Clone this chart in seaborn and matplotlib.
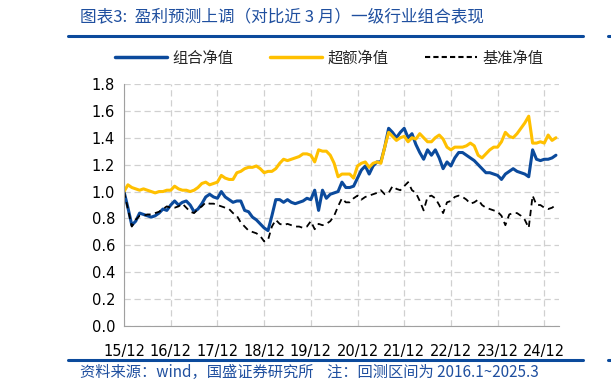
import numpy as np
import pandas as pd
import matplotlib
matplotlib.use('Agg')
import matplotlib.pyplot as plt
import seaborn as sns
from matplotlib.lines import Line2D

# 数据: 月度净值 (2015/12 ~ 2025/03)
zuhe = [1.00, 0.88, 0.75, 0.78, 0.84, 0.83, 0.82, 0.81, 0.82, 0.84, 0.87, 0.86,
        0.90, 0.93, 0.90, 0.92, 0.93, 0.90, 0.85, 0.87, 0.91, 0.96, 0.98, 0.96,
        0.95, 1.00, 0.96, 0.94, 0.92, 0.93, 0.93, 0.86, 0.85, 0.81, 0.79, 0.76,
        0.73, 0.71, 0.82, 0.94, 0.94, 0.92, 0.94, 0.92, 0.91, 0.92, 0.93, 0.95,
        0.94, 1.01, 0.86, 1.01, 0.95, 0.98, 0.99, 1.00, 1.07, 1.03, 1.03, 1.04,
        1.10, 1.16, 1.19, 1.13, 1.19, 1.22, 1.22, 1.33, 1.47, 1.44, 1.40, 1.44,
        1.47, 1.40, 1.43, 1.35, 1.29, 1.24, 1.31, 1.27, 1.31, 1.25, 1.17, 1.22,
        1.19, 1.25, 1.29, 1.29, 1.27, 1.25, 1.23, 1.20, 1.17, 1.14, 1.14, 1.13,
        1.12, 1.09, 1.13, 1.15, 1.17, 1.15, 1.14, 1.13, 1.11, 1.31, 1.24, 1.23,
        1.24, 1.24, 1.25, 1.27]
chaoe = [1.00, 1.05, 1.03, 1.02, 1.01, 1.02, 1.01, 1.00, 0.99, 1.00, 1.00, 1.01,
         1.01, 1.04, 1.02, 1.01, 1.01, 1.00, 1.01, 1.03, 1.06, 1.07, 1.05, 1.06,
         1.07, 1.12, 1.10, 1.09, 1.09, 1.14, 1.15, 1.17, 1.18, 1.18, 1.19, 1.17,
         1.14, 1.15, 1.15, 1.17, 1.21, 1.24, 1.23, 1.24, 1.25, 1.26, 1.28, 1.28,
         1.27, 1.22, 1.31, 1.30, 1.30, 1.27, 1.21, 1.11, 1.13, 1.13, 1.13, 1.10,
         1.19, 1.21, 1.22, 1.18, 1.21, 1.22, 1.21, 1.33, 1.44, 1.41, 1.38, 1.40,
         1.41, 1.37, 1.40, 1.39, 1.43, 1.40, 1.37, 1.37, 1.40, 1.42, 1.39, 1.33,
         1.31, 1.33, 1.33, 1.33, 1.34, 1.36, 1.34, 1.27, 1.25, 1.28, 1.31, 1.33,
         1.33, 1.37, 1.44, 1.41, 1.40, 1.43, 1.47, 1.51, 1.56, 1.36, 1.36, 1.37,
         1.36, 1.42, 1.38, 1.40]
jizhun = [1.00, 0.87, 0.74, 0.79, 0.82, 0.82, 0.83, 0.83, 0.84, 0.85, 0.87, 0.89,
          0.88, 0.88, 0.89, 0.91, 0.88, 0.85, 0.84, 0.87, 0.89, 0.92, 0.91, 0.91,
          0.90, 0.89, 0.88, 0.87, 0.84, 0.82, 0.77, 0.74, 0.71, 0.70, 0.69, 0.67,
          0.63, 0.64, 0.74, 0.79, 0.76, 0.75, 0.76, 0.75, 0.74, 0.74, 0.73, 0.74,
          0.78, 0.72, 0.76, 0.75, 0.76, 0.78, 0.82, 0.89, 0.95, 0.92, 0.92, 0.95,
          0.97, 0.94, 0.96, 0.97, 0.98, 0.99, 1.01, 0.98, 0.99, 1.04, 1.02, 1.01,
          1.04, 1.07, 1.01, 0.99, 0.93, 0.86, 0.96, 0.97, 0.95, 0.90, 0.84, 0.92,
          0.93, 0.96, 0.97, 0.96, 0.94, 0.91, 0.92, 0.94, 0.90, 0.88, 0.87, 0.86,
          0.85, 0.82, 0.75, 0.83, 0.84, 0.84, 0.82, 0.79, 0.73, 0.97, 0.90, 0.90,
          0.88, 0.87, 0.88, 0.90]
xtick_labels = ['15/12', '16/12', '17/12', '18/12', '19/12',
                '20/12', '21/12', '22/12', '23/12', '24/12']

df = pd.DataFrame({'月': np.arange(len(zuhe)), '组合净值': zuhe,
                   '超额净值': chaoe, '基准净值': jizhun})

sns.set_style('white')
plt.rcParams['font.family'] = ['Noto Sans CJK SC', 'DejaVu Sans']

blue = '#0b4a9c'
yellow = '#ffc000'
title_blue = '#1f4f9f'

fig = plt.figure(figsize=(6.11, 3.92), dpi=100)
ax = fig.add_axes([0.203, 0.168, 0.712, 0.618])

sns.lineplot(data=df, x='月', y='组合净值', ax=ax, color=blue, linewidth=2.2)
sns.lineplot(data=df, x='月', y='超额净值', ax=ax, color=yellow, linewidth=2.2)
sns.lineplot(data=df, x='月', y='基准净值', ax=ax, color='black', linewidth=1.3,
             linestyle=(0, (3.5, 2.5)))

ax.set_xlim(0, 111.8)
ax.set_ylim(0, 1.8)
ax.set_yticks(np.arange(0, 1.81, 0.2))
ax.set_yticklabels([f'{v:.1f}' for v in np.arange(0, 1.81, 0.2)],
                   family='DejaVu Sans', fontsize=10.5)
ax.set_xticks(np.arange(0, 109, 12))
ax.set_xticklabels(xtick_labels, family='DejaVu Sans', fontsize=10.5)
ax.set_xlabel('')
ax.set_ylabel('')
ax.grid(True, color='#d0d0d0', linestyle=(0, (5, 3)), linewidth=0.9)
for s in ['top', 'right']:
    ax.spines[s].set_visible(False)
for s in ['left', 'bottom']:
    ax.spines[s].set_color('#a0a0a0')
ax.tick_params(axis='both', length=3, color='#a0a0a0', direction='out',
               colors='black')
ax.tick_params(axis='x', pad=10)

handles = [Line2D([], [], color=blue, linewidth=2.5),
           Line2D([], [], color=yellow, linewidth=2.5),
           Line2D([], [], color='black', linewidth=1.5, linestyle=(0, (2.5, 1.5)))]
fig.legend(handles, ['组合净值', '超额净值', '基准净值'], loc='center',
           bbox_to_anchor=(0.539, 0.852), ncol=3, frameon=False, fontsize=11,
           handlelength=3.4, columnspacing=2.4, handletextpad=0.35)

# 标题与来源
fig.text(0.131, 0.954, '图表3:  盈利预测上调（对比近 3 月）一级行业组合表现',
         color=title_blue, fontsize=12, style='italic', va='center')
fig.text(0.131, 0.051, '资料来源：wind，国盛证券研究所    注：回测区间为 2016.1~2025.3',
         color=title_blue, fontsize=11, style='italic', va='center')
for yy in [0.908, 0.082]:
    fig.add_artist(Line2D([0.111, 0.954], [yy, yy], color=blue, linewidth=2.2))
    fig.add_artist(Line2D([0.995, 1.0], [yy, yy], color=blue, linewidth=2.2))

fig.savefig('out.png', dpi=100)
